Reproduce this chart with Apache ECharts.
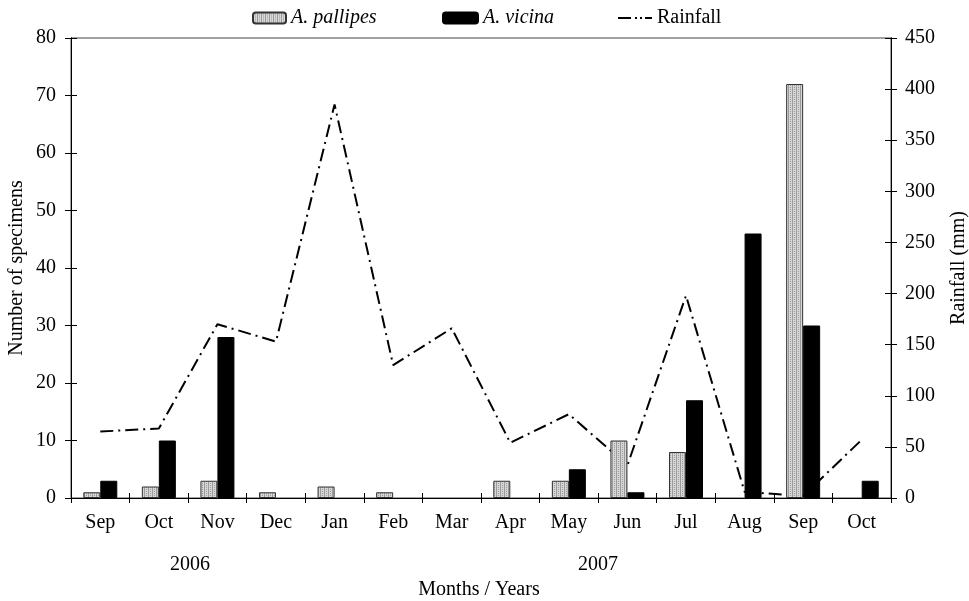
<!DOCTYPE html>
<html><head><meta charset="utf-8">
<script src="https://cdn.jsdelivr.net/npm/echarts@6/dist/echarts.min.js"></script>
<style>html,body{margin:0;padding:0;background:#fff}#c{width:969px;height:601px}</style>
</head><body><div id="c"></div>
<script>
const months = ['Sep','Oct','Nov','Dec','Jan','Feb','Mar','Apr','May','Jun','Jul','Aug','Sep','Oct'];
const pallipes = [1,2,3,1,2,1,0,3,3,10,8,0,72,0];
const vicina = [3,10,28,0,0,0,0,0,5,1,17,46,30,3];
const rainfall = [65,68,170,153,385,130,166,54,82,32,198,6,2,57];
const years = ['2006','2007'];

function makePattern(){
  const c = document.createElement('canvas'); c.width = 4; c.height = 4;
  const g = c.getContext('2d');
  g.fillStyle = '#d6d6d6'; g.fillRect(0,0,4,4);
  g.fillStyle = '#9c9c9c'; g.fillRect(0,0,1,4); g.fillRect(2,1,1,1); g.fillRect(2,3,1,1);
  return c;
}
const pat = makePattern();
const font = 'Liberation Serif';
const FS = 20;
const hideZero = arr => arr.map(v => v === 0 ? '-' : v);
const chart = echarts.init(document.getElementById('c'));
const axisCommon = {axisLine:{show:true,lineStyle:{color:'#000',width:1}}, splitLine:{show:false}};
const legendText = {fontFamily:font,fontSize:FS,color:'#000'};
const dashDotIcon = 'path://M0,5h13v2h-13z M17,5h2v2h-2z M22,5h2v2h-2z M27,5h7v2h-7z';
chart.setOption({
  animation:false,
  textStyle:{fontFamily:font,color:'#000'},
  grid:{left:71,right:78,top:38,bottom:103,containLabel:false,outerBoundsMode:'none',
    show:true,borderColor:'#444',borderWidth:1,backgroundColor:'transparent'},
  legend:[
    {top:8,left:252,padding:0,itemWidth:33,itemHeight:11,itemGap:0,textStyle:Object.assign({fontStyle:'italic'},legendText),data:['A. pallipes']},
    {top:8,left:442,padding:0,itemWidth:35,itemHeight:11,itemGap:0,textStyle:Object.assign({fontStyle:'italic'},legendText),data:['A. vicina']},
    {top:8,left:618,padding:0,itemWidth:34,itemHeight:12,itemGap:0,textStyle:legendText,data:[{name:'Rainfall',icon:dashDotIcon,itemStyle:{color:'#000'}}]}
  ],
  xAxis:[
    Object.assign({type:'category',data:months,position:'bottom',
      axisTick:{show:true,length:5,lineStyle:{color:'#000'}},
      axisLabel:{fontFamily:font,fontSize:FS,color:'#000',margin:15}},axisCommon),
    Object.assign({type:'category',data:months,position:'bottom',
      axisTick:{show:true,inside:true,length:5,lineStyle:{color:'#000'}},
      axisLabel:{show:false}},axisCommon)
  ],
  yAxis:[
    Object.assign({type:'value',min:0,max:80,interval:10,position:'left',
      name:'Number of specimens',nameLocation:'middle',nameGap:44,nameMoveOverlap:false,
      nameTextStyle:{fontFamily:font,fontSize:FS,color:'#000'},
      axisTick:{show:true,length:6,lineStyle:{color:'#000'}},
      axisLabel:{fontFamily:font,fontSize:FS,color:'#000',margin:15}},axisCommon),
    Object.assign({type:'value',min:0,max:450,interval:50,position:'right',
      name:'Rainfall (mm)',nameLocation:'middle',nameGap:58,nameRotate:90,
      nameTextStyle:{fontFamily:font,fontSize:FS,color:'#000'},
      axisTick:{show:true,length:6,lineStyle:{color:'#000'}},
      axisLabel:{fontFamily:font,fontSize:FS,color:'#000',margin:14}},axisCommon),
    Object.assign({type:'value',min:0,max:80,interval:10,position:'left',
      axisTick:{show:true,inside:true,length:6,lineStyle:{color:'#000'}},axisLabel:{show:false}},axisCommon),
    Object.assign({type:'value',min:0,max:450,interval:50,position:'right',
      axisTick:{show:true,inside:true,length:6,lineStyle:{color:'#000'}},axisLabel:{show:false}},axisCommon)
  ],
  series:[
    {name:'A. pallipes',type:'bar',data:hideZero(pallipes),barWidth:17,barGap:'0%',z:3,
      itemStyle:{color:{image:pat,repeat:'repeat'},borderColor:'#333',borderWidth:1}},
    {name:'A. vicina',type:'bar',data:hideZero(vicina),barWidth:17,barGap:'0%',z:3,
      itemStyle:{color:'#000',borderColor:'#000',borderWidth:1}},
    {name:'Rainfall',type:'line',yAxisIndex:1,data:rainfall,symbol:'none',z:1,
      lineStyle:{color:'#000',width:2,type:[13,5,2,5]},itemStyle:{color:'#000'}}
  ],
  graphic:[
    {type:'text',x:190,y:565,style:{text:years[0],font:FS+'px "Liberation Serif"',fill:'#000',align:'center',verticalAlign:'middle'}},
    {type:'text',x:598,y:565,style:{text:years[1],font:FS+'px "Liberation Serif"',fill:'#000',align:'center',verticalAlign:'middle'}},
    {type:'text',x:479,y:590,style:{text:'Months / Years',font:FS+'px "Liberation Serif"',fill:'#000',align:'center',verticalAlign:'middle'}}
  ]
});
</script></body></html>
